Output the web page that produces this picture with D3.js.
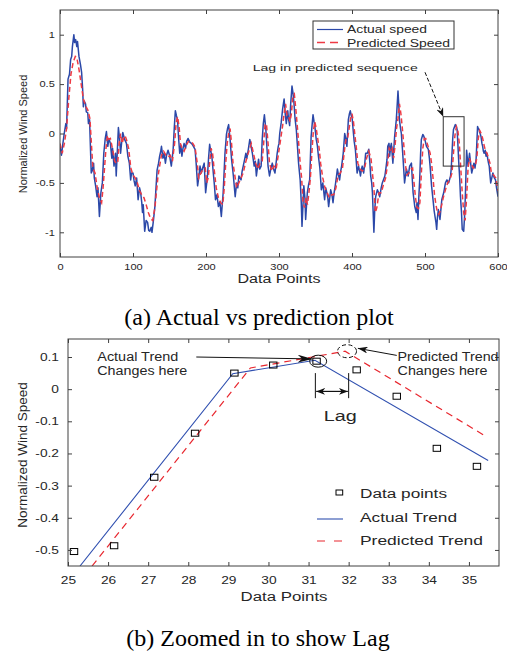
<!DOCTYPE html>
<html>
<head>
<meta charset="utf-8">
<script src="https://cdn.jsdelivr.net/npm/d3@7"></script>
<style>
  body { margin: 0; background: #fff; }
  text { font-family: "Liberation Sans", Arial, sans-serif; fill: #262626; }
  .cap { font-family: "Liberation Serif", "Times New Roman", serif; fill: #000; }
</style>
</head>
<body>
<script>
// ---- data ----
const topXTicks = [0, 100, 200, 300, 400, 500, 600];
const topYTicks = [-1, -0.5, 0, 0.5, 1];
const zoomXTicks = [25, 26, 27, 28, 29, 30, 31, 32, 33, 34, 35];
const zoomYTicks = [-0.5, -0.4, -0.3, -0.2, -0.1, 0, 0.1];

// [data point index, normalized speed]
const actualSpeed = [
  [0,-0.12],[2,-0.22],[4,-0.1],[6,0.01],[8,0.1],[9,0.05],[11,0.55],[13,0.6],[14.6,0.75],[16,0.78],
  [17,0.88],[19,1.0],[20,0.92],[21.5,0.95],[23,0.88],[24,0.93],[26,0.78],[28,0.7],[29.6,0.62],[31,0.45],
  [32,0.27],[33,0.33],[35,0.3],[36,0.22],[38,0.21],[39,0.1],[40.5,0.14],[42.8,-0.4],[44,-0.38],[46,-0.3],
  [47,-0.45],[48.8,-0.53],[50.7,-0.64],[52,-0.55],[54,-0.84],[56,-0.6],[58,-0.5],[60,-0.2],[62,-0.05],[63.6,0.02],
  [65.5,-0.13],[67,-0.05],[69,-0.1],[71,-0.25],[72,-0.15],[74,-0.33],[76,-0.2],[77,-0.43],[79,-0.1],[80,0.06],
  [81.5,-0.05],[83,-0.2],[85,-0.05],[86,0.01],[88.5,-0.06],[91,-0.1],[93,-0.23],[95,-0.3],[96.8,-0.47],[98,-0.4],
  [100,-0.4],[101.5,-0.48],[103,-0.53],[105,-0.45],[107,-0.67],[109,-0.55],[110.5,-0.6],[112,-0.7],[113,-0.8],[114,-0.72],
  [116,-0.99],[118,-0.88],[120,-0.9],[121.5,-0.98],[123,-0.99],[125,-0.95],[126,-1.0],[128,-0.88],[130,-0.74],[131.5,-0.55],
  [133,-0.37],[135,-0.3],[136.5,-0.23],[138,-0.18],[139,-0.13],[141,-0.25],[142.6,-0.2],[144.4,-0.3],[146,-0.22],[148,-0.17],
  [150,-0.22],[152.5,-0.33],[155,-0.16],[156.5,0.05],[158,0.23],[159.5,0.18],[161,0.14],[162.5,-0.05],[164,-0.2],[165.5,-0.12],
  [167,-0.23],[168.5,-0.15],[170,-0.1],[172,-0.15],[173.5,-0.08],[175.5,-0.05],[178,-0.09],[180,-0.1],[182,-0.12],[185,-0.16],
  [186.5,-0.3],[188.5,-0.53],[190,-0.45],[191.8,-0.33],[193.5,-0.4],[195,-0.36],[197.5,-0.3],[199.5,-0.6],[201,-0.5],[202,-0.43],
  [203.5,-0.25],[205,-0.11],[206.5,-0.18],[208,-0.23],[210,-0.4],[211.5,-0.52],[213,-0.67],[215,-0.62],[217,-0.74],[219,-0.69],
  [221,-0.84],[223.5,-0.6],[226,-0.2],[228,-0.01],[229.5,0.05],[231,0.09],[233,-0.06],[235,-0.26],[237.5,-0.43],[240,-0.64],
  [242,-0.5],[243.5,-0.55],[245,-0.43],[248,-0.47],[249.5,-0.38],[251,-0.33],[253,-0.26],[254.6,-0.2],[256,-0.25],[258,-0.16],
  [260,-0.06],[261.5,-0.12],[263.5,-0.2],[266,-0.33],[267.5,-0.28],[269,-0.43],[272,-0.26],[273.5,-0.36],[275.5,-0.33],[277,-0.06],
  [278.5,0.1],[280,0.19],[282,0.04],[283.5,-0.15],[285,-0.33],[287,-0.43],[289,-0.35],[290.8,-0.3],[292.5,-0.36],[294.5,-0.4],
  [296,-0.3],[297.5,-0.2],[299,-0.13],[300,-0.1],[301,0.0],[303,0.11],[305,0.25],[307,0.35],[308.5,0.2],[310,0.1],
  [312,0.23],[313,0.15],[314.6,0.08],[316,0.3],[317.8,0.48],[319,0.42],[320.5,0.31],[322,0.15],[323.7,0.04],[325,-0.1],
  [326.8,-0.3],[329,-0.47],[330.5,-0.7],[331.5,-0.94],[333,-0.7],[334,-0.53],[335.5,-0.65],[336.5,-0.87],[338.8,-0.6],[340.5,-0.52],
  [342,-0.47],[343,-0.25],[344,-0.03],[345.5,0.1],[346.6,0.19],[348,0.12],[349,0.08],[351,-0.06],[352.5,-0.12],[354,-0.23],
  [356,-0.35],[358,-0.57],[360,-0.5],[362.5,-0.67],[364,-0.55],[365.6,-0.6],[367,-0.66],[368,-0.74],[370.8,-0.57],[372.5,-0.62],
  [374,-0.7],[375.5,-0.6],[377,-0.53],[378.5,-0.45],[380,-0.36],[381.5,-0.42],[383,-0.47],[384.5,-0.38],[385.8,-0.33],[388,-0.2],
  [389,-0.1],[390,0.0],[391.5,-0.05],[393,-0.13],[395,0.14],[396.5,0.2],[397.7,0.23],[399,0.18],[400,0.17],[402,0.0],
  [403,-0.08],[404.6,-0.16],[406,-0.3],[407,-0.4],[409,-0.33],[410.5,-0.38],[411.6,-0.43],[413,-0.36],[414,-0.33],[416,-0.4],
  [417.5,-0.3],[418.7,-0.2],[421,-0.2],[423,-0.16],[424.5,-0.3],[425.6,-0.43],[427,-0.5],[428,-0.6],[429,-0.8],[430,-1.0],
  [431,-0.8],[432.4,-0.64],[434.7,-0.57],[436.5,-0.6],[438,-0.64],[440,-0.55],[441.5,-0.5],[443,-0.47],[445,-0.43],[446.5,-0.35],
  [448,-0.26],[449,-0.13],[450.7,-0.1],[451.6,-0.23],[453,-0.13],[453.9,-0.1],[456,-0.3],[458.4,-0.03],[460.7,0.14],[462,0.3],
  [463,0.43],[464,0.3],[465,0.14],[466.5,0.05],[467.6,0.0],[469,-0.15],[470,-0.26],[472,-0.5],[474.5,-0.36],[476,-0.4],
  [477,-0.43],[479,-0.33],[481.4,-0.3],[482.5,-0.45],[483.7,-0.6],[486,-0.74],[488,-0.8],[489,-0.7],[490.4,-0.87],[491.5,-0.65],
  [492.7,-0.47],[494,-0.2],[495,-0.06],[497,-0.01],[498.5,-0.03],[499.8,-0.06],[502,-0.13],[504.6,-0.16],[506,-0.25],[507,-0.33],
  [509,-0.53],[511.4,-0.7],[512.5,-0.78],[513.7,-0.84],[515,-0.9],[516,-0.97],[517,-0.85],[518.3,-0.77],[520.5,-0.87],[522,-0.75],
  [523,-0.67],[525.6,-0.6],[528,-0.5],[530,-0.47],[532.4,-0.5],[535,-0.43],[536,-0.35],[537,-0.2],[538,-0.05],[539,0.04],
  [541.6,0.09],[543,0.07],[544,0.04],[545,-0.1],[546.3,-0.3],[547.5,-0.45],[548.6,-0.64],[550,-0.8],[551,-0.97],[553,-0.99],
  [554.5,-0.8],[555.7,-0.53],[556.5,-0.3],[557,-0.17],[558,-0.25],[559,-0.33],[561,-0.2],[562.5,-0.3],[564,-0.4],[565.5,-0.35],
  [567,-0.3],[568.5,-0.35],[570,-0.26],[571,-0.1],[572,0.07],[573,0.05],[574,0.04],[575.5,0.0],[576.7,-0.03],[578,-0.1],
  [579,-0.13],[580,-0.18],[581,-0.2],[582.5,-0.17],[583.6,-0.23],[585,-0.2],[586,-0.26],[587,-0.3],[588,-0.33],[589,-0.42],
  [590,-0.5],[591.5,-0.45],[593,-0.4],[595,-0.45],[596.6,-0.47],[598,-0.55],[600,-0.64]
];

const predictedSpeed = [
  [0,-0.1],[3,-0.2],[6,-0.1],[9,0.05],[12,0.35],[15,0.6],[18,0.72],[21,0.78],[23,0.77],[26,0.65],
  [29,0.5],[32,0.35],[35,0.28],[38,0.24],[41,0.15],[43,-0.1],[45,-0.35],[48,-0.4],[51,-0.55],[54,-0.65],
  [57,-0.7],[59,-0.55],[61,-0.35],[63,-0.15],[65,-0.02],[67,-0.06],[69,-0.05],[71,-0.12],[73,-0.2],[75,-0.28],
  [77,-0.3],[79,-0.3],[81,-0.1],[83,0.0],[85,-0.1],[87,-0.05],[89,-0.02],[91,-0.06],[94,-0.15],[97,-0.35],
  [100,-0.42],[103,-0.45],[106,-0.5],[109,-0.58],[112,-0.62],[115,-0.65],[118,-0.72],[121,-0.8],[124,-0.86],[127,-0.88],
  [130,-0.75],[132,-0.6],[134,-0.45],[136,-0.35],[139,-0.22],[142,-0.18],[145,-0.22],[148,-0.24],[151,-0.22],[154,-0.28],
  [157,-0.1],[159,0.1],[161,0.17],[163,0.08],[165,-0.1],[167,-0.15],[170,-0.18],[173,-0.12],[176,-0.08],[179,-0.08],
  [182,-0.1],[185,-0.14],[188,-0.3],[190,-0.45],[193,-0.4],[196,-0.36],[199,-0.35],[201,-0.5],[203,-0.45],[205,-0.3],
  [207,-0.15],[209,-0.2],[211,-0.35],[214,-0.55],[217,-0.65],[220,-0.7],[223,-0.72],[225,-0.55],[227,-0.3],[229,-0.1],
  [231,0.0],[233,0.05],[235,-0.1],[237,-0.3],[240,-0.45],[242,-0.55],[245,-0.5],[248,-0.45],[251,-0.4],[254,-0.3],
  [257,-0.22],[260,-0.15],[262,-0.1],[265,-0.2],[268,-0.3],[271,-0.36],[274,-0.3],[277,-0.28],[279,-0.1],[281,0.1],
  [283,0.08],[285,-0.1],[287,-0.3],[290,-0.38],[293,-0.33],[296,-0.36],[299,-0.22],[301,-0.12],[303,-0.02],[305,0.08],
  [307,0.2],[309,0.3],[311,0.18],[313,0.18],[315,0.12],[317,0.2],[319,0.38],[321,0.4],[323,0.25],[325,0.08],
  [327,-0.1],[329,-0.3],[331,-0.45],[333,-0.7],[335,-0.75],[337,-0.65],[339,-0.72],[341,-0.6],[343,-0.45],[345,-0.2],
  [347,0.02],[349,0.12],[351,0.05],[353,-0.05],[355,-0.15],[357,-0.3],[360,-0.45],[363,-0.55],[366,-0.6],[369,-0.65],
  [372,-0.62],[375,-0.62],[378,-0.55],[381,-0.42],[384,-0.4],[387,-0.35],[390,-0.15],[392,-0.05],[394,-0.05],[396,0.05],
  [398,0.15],[400,0.2],[402,0.12],[404,-0.02],[406,-0.15],[408,-0.3],[411,-0.36],[414,-0.38],[417,-0.36],[420,-0.25],
  [423,-0.18],[426,-0.25],[428,-0.4],[430,-0.55],[432,-0.8],[434,-0.75],[437,-0.6],[440,-0.6],[443,-0.52],[446,-0.45],
  [449,-0.3],[451,-0.15],[453,-0.18],[455,-0.15],[457,-0.25],[459,-0.12],[461,0.05],[463,0.15],[465,0.3],[467,0.2],
  [469,0.05],[471,-0.12],[473,-0.3],[475,-0.42],[478,-0.4],[481,-0.36],[483,-0.35],[485,-0.5],[487,-0.65],[489,-0.75],
  [491,-0.76],[493,-0.7],[495,-0.4],[497,-0.15],[499,-0.05],[501,-0.05],[503,-0.1],[505,-0.15],[507,-0.2],[509,-0.3],
  [511,-0.45],[513,-0.62],[515,-0.72],[517,-0.8],[519,-0.82],[521,-0.78],[523,-0.72],[525,-0.65],[528,-0.57],[531,-0.5],
  [534,-0.47],[537,-0.4],[539,-0.2],[541,-0.02],[543,0.07],[545,0.03],[547,-0.1],[549,-0.35],[551,-0.6],[553,-0.8],
  [555,-0.88],[557,-0.65],[559,-0.35],[561,-0.25],[563,-0.3],[566,-0.35],[569,-0.32],[571,-0.25],[573,-0.05],[575,0.03],
  [577,0.0],[579,-0.05],[581,-0.12],[583,-0.18],[585,-0.2],[587,-0.25],[589,-0.3],[591,-0.4],[594,-0.42],[597,-0.45],
  [600,-0.58]
];

// zoomed panel
const dataPoints = [
  [25.15,-0.505],[26.15,-0.487],[27.15,-0.274],[28.17,-0.137],[29.15,0.05],[30.12,0.075],
  [31.2,0.087],[32.2,0.06],[33.2,-0.022],[34.2,-0.184],[35.2,-0.24]
];
const actualTrend = [[25.3,-0.55],[29.11,0.048],[31.16,0.09],[35.48,-0.222]];
const predictedTrend = [[25.6,-0.55],[29.55,0.066],[31.91,0.118],[35.36,-0.142]];

// ---- drawing ----
let w = 507;
let h = 653;
let svg = d3.select("body").append("svg").attr("width", w).attr("height", h);
svg.append("rect").attr("width", w).attr("height", h).attr("fill", "#fff");

let defs = svg.append("defs");

function arrowMarker(id, len, wid) {
  defs.append("marker")
    .attr("id", id)
    .attr("viewBox", "0 0 10 10")
    .attr("preserveAspectRatio", "none")
    .attr("refX", 10).attr("refY", 5)
    .attr("markerWidth", len).attr("markerHeight", wid)
    .attr("markerUnits", "userSpaceOnUse")
    .attr("orient", "auto-start-reverse")
    .append("path")
    .attr("d", "M0,0L10,5L0,10L3,5Z")
    .attr("fill", "#111");
}
arrowMarker("arrTop", 9, 7);
arrowMarker("arrBig", 15, 8);
arrowMarker("arrMid", 10, 7);
arrowMarker("arrLag", 9, 7);

function note(g, x, y, str, size, width, anchor) {
  let t = g.append("text")
    .attr("x", x).attr("y", y)
    .attr("text-anchor", anchor || "start")
    .style("font-size", size + "px")
    .text(str);
  if (width) t.attr("textLength", width).attr("lengthAdjust", "spacingAndGlyphs");
  return t;
}

// boxed axes, ticks pointing inward like matlab
function frame(g, x, y, xTicks, yTicks, o) {
  let [x0, x1] = x.range();
  let [y0, y1] = y.range();
  let fmt = (d) => String(d);

  let bx = g.append("g").attr("transform", "translate(0," + y0 + ")")
    .call(d3.axisBottom(x).tickValues(xTicks).tickSizeInner(-4).tickSizeOuter(0).tickPadding(o.xPad).tickFormat(fmt));
  let tx = g.append("g").attr("transform", "translate(0," + y1 + ")")
    .call(d3.axisTop(x).tickValues(xTicks).tickSizeInner(-4).tickSizeOuter(0).tickFormat(""));
  let ly = g.append("g").attr("transform", "translate(" + x0 + ",0)")
    .call(d3.axisLeft(y).tickValues(yTicks).tickSizeInner(-4).tickSizeOuter(0).tickPadding(o.yPad).tickFormat(fmt));
  let ry = g.append("g").attr("transform", "translate(" + x1 + ",0)")
    .call(d3.axisRight(y).tickValues(yTicks).tickSizeInner(-4).tickSizeOuter(0).tickFormat(""));

  [bx, tx, ly, ry].forEach((a) => {
    a.attr("font-size", o.font);
    a.select(".domain").remove();
    a.selectAll(".tick line").attr("stroke", "#404040");
    a.selectAll(".tick text").attr("fill", "#404040").attr("transform", "scale(" + o.sx + ",1)");
  });

  g.append("rect")
    .attr("x", x0).attr("y", y1)
    .attr("width", x1 - x0).attr("height", y0 - y1)
    .attr("fill", "none").attr("stroke", "#404040").attr("stroke-width", 1);
}

// ===== (a) top panel =====
let xA = d3.scaleLinear().domain([0, 600]).range([60, 498]);
let yA = d3.scaleLinear().domain([-1.25, 1.25]).range([257, 10]);
let gA = svg.append("g");

defs.append("clipPath").attr("id", "clipA").append("rect")
  .attr("x", 60).attr("y", 10).attr("width", 438).attr("height", 247);

let lineA = d3.line().x((d) => xA(d[0])).y((d) => yA(d[1]));

gA.append("path").datum(actualSpeed)
  .attr("clip-path", "url(#clipA)")
  .attr("d", lineA)
  .attr("fill", "none").attr("stroke", "#2b48a8").attr("stroke-width", 1.5)
  .attr("stroke-linejoin", "round");

gA.append("path").datum(predictedSpeed)
  .attr("clip-path", "url(#clipA)")
  .attr("d", lineA)
  .attr("fill", "none").attr("stroke", "#ee3a44").attr("stroke-width", 1.5)
  .attr("stroke-dasharray", "5,3");

frame(gA, xA, yA, topXTicks, topYTicks, { xPad: 7, yPad: 4, font: 8.5, sx: 1.3 });

// lag box + arrow
gA.append("rect")
  .attr("x", xA(525)).attr("y", yA(0.17))
  .attr("width", xA(553.5) - xA(525)).attr("height", yA(-0.33) - yA(0.17))
  .attr("fill", "none").attr("stroke", "#333").attr("stroke-width", 1);

gA.append("line")
  .attr("x1", xA(500)).attr("y1", yA(0.62))
  .attr("x2", xA(525)).attr("y2", yA(0.17))
  .attr("stroke", "#111").attr("stroke-width", 1)
  .attr("stroke-dasharray", "4,2")
  .attr("marker-end", "url(#arrTop)");

note(gA, xA(264), yA(0.63), "Lag in predicted sequence", 9.5, 165);

// legend
gA.append("rect").attr("x", 313).attr("y", 21).attr("width", 141).attr("height", 28)
  .attr("fill", "#fff").attr("stroke", "#333").attr("stroke-width", 1);
gA.append("line").attr("x1", 317).attr("x2", 343).attr("y1", 29.5).attr("y2", 29.5)
  .attr("stroke", "#2b48a8").attr("stroke-width", 1.2);
gA.append("line").attr("x1", 317).attr("x2", 343).attr("y1", 42.5).attr("y2", 42.5)
  .attr("stroke", "#ee3a44").attr("stroke-width", 1.5).attr("stroke-dasharray", "8,5");
note(gA, 347, 33.3, "Actual speed", 10, 80);
note(gA, 347, 46.5, "Predicted Speed", 10, 103);

// axis labels
note(gA, 279, 283, "Data Points", 12, 83, "middle");
gA.append("text")
  .attr("transform", "translate(27,134) rotate(-90)")
  .attr("text-anchor", "middle")
  .style("font-size", "11px")
  .text("Normalized Wind Speed");

svg.append("text").attr("class", "cap")
  .attr("x", 259).attr("y", 325).attr("text-anchor", "middle")
  .style("font-size", "24px")
  .text("(a) Actual vs prediction plot");

// ===== (b) zoomed panel =====
let xB = d3.scaleLinear().domain([25, 35.75]).range([68, 499]);
let yB = d3.scaleLinear().domain([-0.55, 0.156]).range([566, 339]);
let gB = svg.append("g");

defs.append("clipPath").attr("id", "clipB").append("rect")
  .attr("x", 68).attr("y", 339).attr("width", 431).attr("height", 227);

let lineB = d3.line().x((d) => xB(d[0])).y((d) => yB(d[1]));

gB.append("path").datum(actualTrend)
  .attr("clip-path", "url(#clipB)")
  .attr("d", lineB)
  .attr("fill", "none").attr("stroke", "#3050b0").attr("stroke-width", 1.1);

gB.append("path").datum(predictedTrend)
  .attr("clip-path", "url(#clipB)")
  .attr("d", lineB)
  .attr("fill", "none").attr("stroke", "#e8262e").attr("stroke-width", 1.2)
  .attr("stroke-dasharray", "7,5");

gB.selectAll("rect.pt").data(dataPoints).enter().append("rect")
  .attr("class", "pt")
  .attr("x", (d) => xB(d[0]) - 3.7).attr("y", (d) => yB(d[1]) - 3)
  .attr("width", 7.4).attr("height", 6)
  .attr("fill", "none").attr("stroke", "#000").attr("stroke-width", 1);

frame(gB, xB, yB, zoomXTicks, zoomYTicks, { xPad: 10, yPad: 7.2, font: 11, sx: 1.25 });

// trend change annotations
note(gB, xB(25.73), yB(0.087), "Actual Trend", 12, 81);
note(gB, xB(25.73), yB(0.043), "Changes here", 12, 90);
gB.append("line")
  .attr("x1", xB(28.2)).attr("y1", yB(0.1))
  .attr("x2", xB(31.1)).attr("y2", yB(0.094))
  .attr("stroke", "#111").attr("stroke-width", 1)
  .attr("marker-end", "url(#arrBig)");
gB.append("ellipse")
  .attr("cx", xB(31.24)).attr("cy", yB(0.087)).attr("rx", 8.5).attr("ry", 6)
  .attr("fill", "none").attr("stroke", "#111").attr("stroke-width", 1);
gB.append("ellipse")
  .attr("cx", xB(31.96)).attr("cy", yB(0.118)).attr("rx", 9.5).attr("ry", 6.5)
  .attr("fill", "none").attr("stroke", "#111").attr("stroke-width", 1)
  .attr("stroke-dasharray", "4,2.5");
gB.append("line")
  .attr("x1", xB(33.2)).attr("y1", yB(0.105))
  .attr("x2", xB(32.23)).attr("y2", yB(0.127))
  .attr("stroke", "#111").attr("stroke-width", 1)
  .attr("marker-end", "url(#arrMid)");
note(gB, xB(33.22), yB(0.089), "Predicted Trend", 12, 101);
note(gB, xB(33.22), yB(0.043), "Changes here", 12, 90);

// lag marker
[31.17, 32.0].forEach((v) => {
  gB.append("line")
    .attr("x1", xB(v)).attr("x2", xB(v))
    .attr("y1", yB(0.05)).attr("y2", yB(-0.028))
    .attr("stroke", "#111").attr("stroke-width", 1);
});
gB.append("line")
  .attr("x1", xB(31.19)).attr("x2", xB(31.98))
  .attr("y1", yB(-0.007)).attr("y2", yB(-0.007))
  .attr("stroke", "#111").attr("stroke-width", 1.2)
  .attr("marker-start", "url(#arrLag)")
  .attr("marker-end", "url(#arrLag)");
note(gB, xB(31.79), yB(-0.1), "Lag", 15.5, 33, "middle");

// legend
gB.append("rect").attr("x", 336).attr("y", 490).attr("width", 6.7).attr("height", 5)
  .attr("fill", "none").attr("stroke", "#000").attr("stroke-width", 1);
gB.append("line").attr("x1", 317).attr("x2", 343).attr("y1", 519).attr("y2", 519)
  .attr("stroke", "#3050b0").attr("stroke-width", 1.1);
gB.append("line").attr("x1", 317).attr("x2", 343).attr("y1", 541).attr("y2", 541)
  .attr("stroke", "#e8262e").attr("stroke-width", 1.2).attr("stroke-dasharray", "8,9");
note(gB, 360, 498, "Data points", 12.5, 87);
note(gB, 360, 521.7, "Actual Trend", 12.5, 97);
note(gB, 360, 545, "Predicted Trend", 12.5, 123);

note(gB, 284, 601, "Data Points", 12, 87, "middle");
gB.append("text")
  .attr("transform", "translate(27,455) rotate(-90)")
  .attr("text-anchor", "middle")
  .style("font-size", "13.5px")
  .text("Normalized Wind Speed");

svg.append("text").attr("class", "cap")
  .attr("x", 258).attr("y", 646).attr("text-anchor", "middle")
  .style("font-size", "24px")
  .text("(b) Zoomed in to show Lag");
</script>
</body>
</html>
